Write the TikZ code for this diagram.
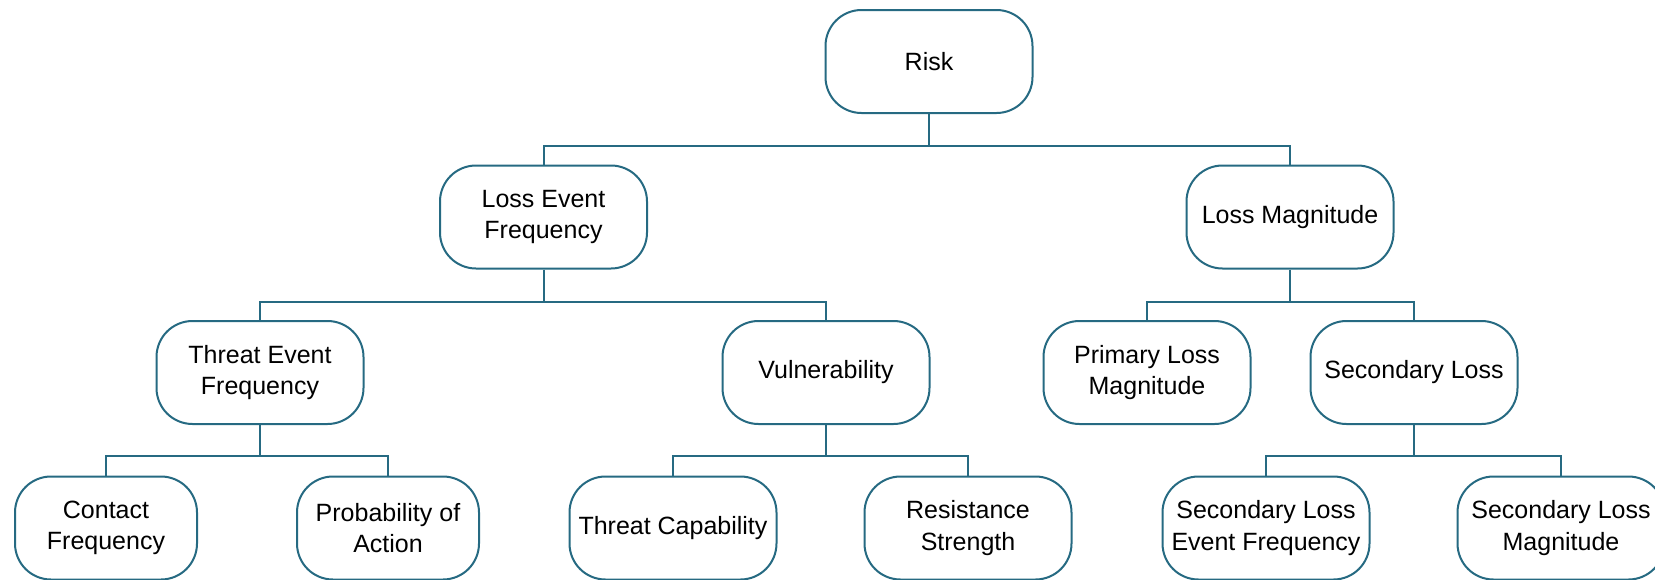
\documentclass[tikz,border=0pt]{standalone}
\usepackage{fontspec}
\setmainfont{Liberation Sans}
\definecolor{edge}{RGB}{38,106,130}
\begin{document}
\begin{tikzpicture}[x=1pt,y=-1pt,
  box/.style={draw=edge, line width=2pt, rounded corners=36pt, fill=white,
    minimum width=207pt, minimum height=103pt, inner sep=0pt, align=center,
    font=\fontsize{25pt}{31.5pt}\selectfont},
  nbox/.style={box, minimum width=182pt},
  link/.style={draw=edge, line width=2pt}]
\useasboundingbox (0,0) rectangle (1655,579);
% level 1
\node[box] (risk) at (929,61.5) {Risk};
% level 2
\node[box] (lef) at (543.5,217) {Loss Event\\Frequency};
\node[box] (lm) at (1290,217) {Loss Magnitude};
% level 3
\node[box] (tef) at (260,372.5) {Threat Event\\Frequency};
\node[box] (vul) at (826,372.5) {Vulnerability};
\node[box] (plm) at (1147,372.5) {Primary Loss\\Magnitude};
\node[box] (sl) at (1414,372.5) {Secondary Loss};
% level 4
\node[nbox] (cf) at (106,528) {Contact\\Frequency};
\node[nbox] (poa) at (388,528) {Probability of\\Action};
\node[box] (tc) at (673,528) {Threat Capability};
\node[box] (rs) at (968,528) {Resistance\\Strength};
\node[box] (slef) at (1266,528) {Secondary Loss\\Event Frequency};
\node[box] (slm) at (1561,528) {Secondary Loss\\Magnitude};
% connectors
\coordinate (b1) at (0,146);
\coordinate (b2) at (0,302);
\coordinate (b3) at (0,456);
\draw[link] (risk.south) -- (risk.south |- b1) -| (lef.north);
\draw[link] (risk.south |- b1) -| (lm.north);
\draw[link] (lef.south) -- (lef.south |- b2) -| (tef.north);
\draw[link] (lef.south |- b2) -| (vul.north);
\draw[link] (lm.south) -- (lm.south |- b2) -| (plm.north);
\draw[link] (lm.south |- b2) -| (sl.north);
\draw[link] (tef.south) -- (tef.south |- b3) -| (cf.north);
\draw[link] (tef.south |- b3) -| (poa.north);
\draw[link] (vul.south) -- (vul.south |- b3) -| (tc.north);
\draw[link] (vul.south |- b3) -| (rs.north);
\draw[link] (sl.south) -- (sl.south |- b3) -| (slef.north);
\draw[link] (sl.south |- b3) -| (slm.north);
\end{tikzpicture}
\end{document}
